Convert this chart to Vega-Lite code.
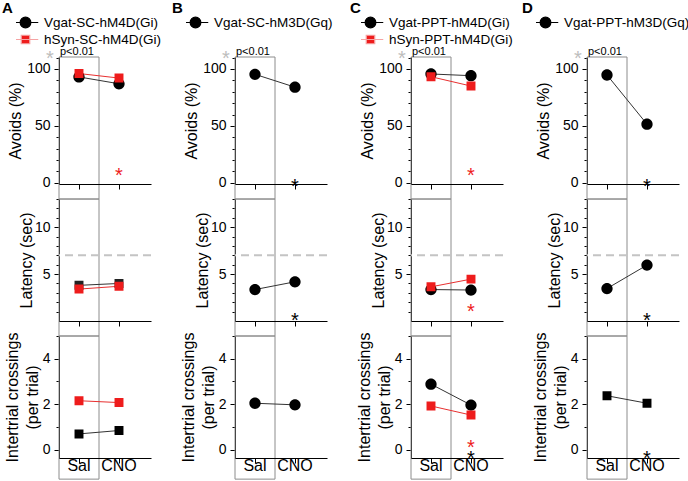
{
  "$schema": "https://vega.github.io/schema/vega-lite/v6.json",
  "padding": {"left": 2, "top": 1, "right": 0, "bottom": 0},
  "datasets": {
    "pts": [
      {"panel": "A", "measure": "avoid", "group": "Vgat-SC-hM4D(Gi)", "cond": "Sal", "value": 93},
      {"panel": "A", "measure": "avoid", "group": "Vgat-SC-hM4D(Gi)", "cond": "CNO", "value": 87},
      {"panel": "A", "measure": "avoid", "group": "hSyn-SC-hM4D(Gi)", "cond": "Sal", "value": 96},
      {"panel": "A", "measure": "avoid", "group": "hSyn-SC-hM4D(Gi)", "cond": "CNO", "value": 92},
      {"panel": "A", "measure": "latency", "group": "Vgat-SC-hM4D(Gi)", "cond": "Sal", "value": 3.8},
      {"panel": "A", "measure": "latency", "group": "Vgat-SC-hM4D(Gi)", "cond": "CNO", "value": 4.0},
      {"panel": "A", "measure": "latency", "group": "hSyn-SC-hM4D(Gi)", "cond": "Sal", "value": 3.4},
      {"panel": "A", "measure": "latency", "group": "hSyn-SC-hM4D(Gi)", "cond": "CNO", "value": 3.7},
      {"panel": "A", "measure": "crossings", "group": "Vgat-SC-hM4D(Gi)", "cond": "Sal", "value": 0.69},
      {"panel": "A", "measure": "crossings", "group": "Vgat-SC-hM4D(Gi)", "cond": "CNO", "value": 0.84},
      {"panel": "A", "measure": "crossings", "group": "hSyn-SC-hM4D(Gi)", "cond": "Sal", "value": 2.15},
      {"panel": "A", "measure": "crossings", "group": "hSyn-SC-hM4D(Gi)", "cond": "CNO", "value": 2.07},
      {"panel": "B", "measure": "avoid", "group": "Vgat-SC-hM3D(Gq)", "cond": "Sal", "value": 95.3},
      {"panel": "B", "measure": "avoid", "group": "Vgat-SC-hM3D(Gq)", "cond": "CNO", "value": 84},
      {"panel": "B", "measure": "latency", "group": "Vgat-SC-hM3D(Gq)", "cond": "Sal", "value": 3.35},
      {"panel": "B", "measure": "latency", "group": "Vgat-SC-hM3D(Gq)", "cond": "CNO", "value": 4.18},
      {"panel": "B", "measure": "crossings", "group": "Vgat-SC-hM3D(Gq)", "cond": "Sal", "value": 2.04},
      {"panel": "B", "measure": "crossings", "group": "Vgat-SC-hM3D(Gq)", "cond": "CNO", "value": 1.97},
      {"panel": "C", "measure": "avoid", "group": "Vgat-PPT-hM4D(Gi)", "cond": "Sal", "value": 95.6},
      {"panel": "C", "measure": "avoid", "group": "Vgat-PPT-hM4D(Gi)", "cond": "CNO", "value": 94.1},
      {"panel": "C", "measure": "avoid", "group": "hSyn-PPT-hM4D(Gi)", "cond": "Sal", "value": 93.2},
      {"panel": "C", "measure": "avoid", "group": "hSyn-PPT-hM4D(Gi)", "cond": "CNO", "value": 85},
      {"panel": "C", "measure": "latency", "group": "Vgat-PPT-hM4D(Gi)", "cond": "Sal", "value": 3.35},
      {"panel": "C", "measure": "latency", "group": "Vgat-PPT-hM4D(Gi)", "cond": "CNO", "value": 3.3},
      {"panel": "C", "measure": "latency", "group": "hSyn-PPT-hM4D(Gi)", "cond": "Sal", "value": 3.64},
      {"panel": "C", "measure": "latency", "group": "hSyn-PPT-hM4D(Gi)", "cond": "CNO", "value": 4.46},
      {"panel": "C", "measure": "crossings", "group": "Vgat-PPT-hM4D(Gi)", "cond": "Sal", "value": 2.88},
      {"panel": "C", "measure": "crossings", "group": "Vgat-PPT-hM4D(Gi)", "cond": "CNO", "value": 1.96},
      {"panel": "C", "measure": "crossings", "group": "hSyn-PPT-hM4D(Gi)", "cond": "Sal", "value": 1.92},
      {"panel": "C", "measure": "crossings", "group": "hSyn-PPT-hM4D(Gi)", "cond": "CNO", "value": 1.52},
      {"panel": "D", "measure": "avoid", "group": "Vgat-PPT-hM3D(Gq)", "cond": "Sal", "value": 94.7},
      {"panel": "D", "measure": "avoid", "group": "Vgat-PPT-hM3D(Gq)", "cond": "CNO", "value": 51.5},
      {"panel": "D", "measure": "latency", "group": "Vgat-PPT-hM3D(Gq)", "cond": "Sal", "value": 3.46},
      {"panel": "D", "measure": "latency", "group": "Vgat-PPT-hM3D(Gq)", "cond": "CNO", "value": 5.96},
      {"panel": "D", "measure": "crossings", "group": "Vgat-PPT-hM3D(Gq)", "cond": "Sal", "value": 2.37},
      {"panel": "D", "measure": "crossings", "group": "Vgat-PPT-hM3D(Gq)", "cond": "CNO", "value": 2.04}
    ],
    "stars": [
      {"panel": "A", "measure": "avoid", "line": "hSyn", "value": 10},
      {"panel": "B", "measure": "avoid", "line": "Vgat", "value": 1},
      {"panel": "C", "measure": "avoid", "line": "hSyn", "value": 10},
      {"panel": "D", "measure": "avoid", "line": "Vgat", "value": 1},
      {"panel": "B", "measure": "latency", "line": "Vgat", "value": 0.5},
      {"panel": "C", "measure": "latency", "line": "hSyn", "value": 1.5},
      {"panel": "D", "measure": "latency", "line": "Vgat", "value": 0.5},
      {"panel": "C", "measure": "crossings", "line": "hSyn", "value": 0.3},
      {"panel": "C", "measure": "crossings", "line": "Vgat", "value": -0.19},
      {"panel": "D", "measure": "crossings", "line": "Vgat", "value": -0.19}
    ]
  },
  "columns": 4,
  "spacing": {"row": 15, "column": 84},
  "bounds": "flush",
  "resolve": {
    "scale": {"fill": "independent", "stroke": "independent", "shape": "independent", "color": "independent", "x": "independent", "y": "independent"},
    "legend": {"fill": "independent", "stroke": "independent", "shape": "independent"}
  },
  "concat": [
    {
      "width": 92, "height": 127,
      "title": {"text": "A", "anchor": "start", "frame": "group", "fontSize": 15, "fontWeight": "bold", "dx": -57, "offset": -1, "color": "#000", "font": "Liberation Sans"},
      "resolve": {"axis": {"y": "independent"}},
      "layer": [
        {"data": {"values": [{}]}, "mark": {"type": "rect", "fillOpacity": 0, "stroke": "#8c8c8c", "strokeWidth": 1},
         "encoding": {"x": {"datum": "Sal", "type": "nominal", "scale": {"type": "band", "domain": ["Sal", "CNO"], "paddingInner": 0, "paddingOuter": 0.15, "align": 0}},
                      "y": {"datum": -14.2, "type": "quantitative", "scale": {"domain": [-1, 110.5], "nice": false, "zero": false}, "axis": null},
                      "y2": {"datum": 110.5}}},
        {"data": {"values": [{}]}, "mark": {"type": "text", "text": "p<0.01", "align": "left", "baseline": "alphabetic", "fontSize": 11, "dx": 1, "dy": -2, "color": "#000"},
         "encoding": {"x": {"datum": "Sal", "type": "nominal", "bandPosition": 0, "scale": {"type": "band", "domain": ["Sal", "CNO"], "paddingInner": 0, "paddingOuter": 0.15, "align": 0}},
                      "y": {"datum": 110.5, "type": "quantitative", "scale": {"domain": [-1, 110.5], "nice": false, "zero": false}, "axis": null}}},
        {"data": {"values": [{}]}, "mark": {"type": "text", "text": "*", "align": "center", "baseline": "alphabetic", "fontSize": 20, "dx": -9, "dy": 8, "color": "#bdbdbd"},
         "encoding": {"x": {"datum": "Sal", "type": "nominal", "bandPosition": 0, "scale": {"type": "band", "domain": ["Sal", "CNO"], "paddingInner": 0, "paddingOuter": 0.15, "align": 0}},
                      "y": {"datum": 110.5, "type": "quantitative", "scale": {"domain": [-1, 110.5], "nice": false, "zero": false}, "axis": null}}},
        {"data": {"name": "pts"}, "transform": [{"filter": "datum.panel==='A' && datum.measure==='avoid'"}],
         "mark": {"type": "line", "strokeWidth": 1},
         "encoding": {"x": {"field": "cond", "type": "nominal", "scale": {"type": "band", "domain": ["Sal", "CNO"], "paddingInner": 0, "paddingOuter": 0.15, "align": 0}},
                      "y": {"field": "value", "type": "quantitative", "scale": {"domain": [-1, 110.5], "nice": false, "zero": false}, "axis": {"title": null, "orient": "left", "values": [10, 20, 30, 40, 60, 70, 80, 90, 110], "labels": false, "domain": false, "tickSize": 3}},
                      "detail": {"field": "group"},
                      "stroke": {"condition": {"test": "indexof(datum.group,'hSyn')===0", "value": "#e83030"}, "value": "#333333"}}},
        {"data": {"name": "pts"}, "transform": [{"filter": "datum.panel==='A' && datum.measure==='avoid'"}],
         "mark": {"type": "point", "filled": true, "size": 320, "strokeWidth": 0, "opacity": 1},
         "encoding": {"x": {"field": "cond", "type": "nominal", "scale": {"type": "band", "domain": ["Sal", "CNO"], "paddingInner": 0, "paddingOuter": 0.15, "align": 0}, "axis": {"title": null, "labels": false}},
                      "y": {"field": "value", "type": "quantitative", "scale": {"domain": [-1, 110.5], "nice": false, "zero": false}, "axis": {"title": "Avoids (%)", "orient": "left", "values": [0, 50, 100], "titlePadding": 3}},
                      "fill": {"field": "group", "type": "nominal", "scale": {"range": ["#000000", "#ee1c1c"]}, "legend": {"title": null, "orient": "none", "legendX": -43, "legendY": -42, "symbolSize": 289, "symbolStrokeWidth": 1.2, "labelFontSize": 13.5, "labelOffset": 9, "rowPadding": 2, "clipHeight": 15, "padding": 0, "labelLimit": 300}},
                      "stroke": {"field": "group", "type": "nominal", "scale": {"range": ["#000000", "#f5a3a3"]}, "legend": {"title": null, "orient": "none", "legendX": -43, "legendY": -42, "symbolSize": 289, "symbolStrokeWidth": 1.2, "labelFontSize": 13.5, "labelOffset": 9, "rowPadding": 2, "clipHeight": 15, "padding": 0, "labelLimit": 300}},
                      "shape": {"field": "group", "type": "nominal", "scale": {"range": ["M-1.5,0H1.5M0.63,0A0.63,0.63,0,1,1,-0.63,0A0.63,0.63,0,1,1,0.63,0Z", "M-1.5,0H1.5M-0.5,-0.5H0.5V0.5H-0.5Z"]}, "legend": {"title": null, "orient": "none", "legendX": -43, "legendY": -42, "symbolSize": 289, "symbolStrokeWidth": 1.2, "labelFontSize": 13.5, "labelOffset": 9, "rowPadding": 2, "clipHeight": 15, "padding": 0, "labelLimit": 300}}}},
        {"data": {"name": "stars"}, "transform": [{"filter": "datum.panel==='A' && datum.measure==='avoid'"}],
         "mark": {"type": "text", "text": "*", "fontSize": 20, "baseline": "alphabetic", "dy": 11},
         "encoding": {"x": {"datum": "CNO", "type": "nominal", "scale": {"type": "band", "domain": ["Sal", "CNO"], "paddingInner": 0, "paddingOuter": 0.15, "align": 0}},
                      "y": {"field": "value", "type": "quantitative", "scale": {"domain": [-1, 110.5], "nice": false, "zero": false}, "axis": null},
                      "color": {"condition": {"test": "datum.line==='hSyn'", "value": "#ee1c1c"}, "value": "#000000"}}}
      ]
    },
    {
      "width": 92, "height": 127,
      "title": {"text": "B", "anchor": "start", "frame": "group", "fontSize": 15, "fontWeight": "bold", "dx": -63, "offset": -1, "color": "#000", "font": "Liberation Sans"},
      "resolve": {"axis": {"y": "independent"}},
      "layer": [
        {"data": {"values": [{}]}, "mark": {"type": "rect", "fillOpacity": 0, "stroke": "#8c8c8c", "strokeWidth": 1},
         "encoding": {"x": {"datum": "Sal", "type": "nominal", "scale": {"type": "band", "domain": ["Sal", "CNO"], "paddingInner": 0, "paddingOuter": 0.15, "align": 0}},
                      "y": {"datum": -14.2, "type": "quantitative", "scale": {"domain": [-1, 110.5], "nice": false, "zero": false}, "axis": null},
                      "y2": {"datum": 110.5}}},
        {"data": {"values": [{}]}, "mark": {"type": "text", "text": "p<0.01", "align": "left", "baseline": "alphabetic", "fontSize": 11, "dx": 1, "dy": -2, "color": "#000"},
         "encoding": {"x": {"datum": "Sal", "type": "nominal", "bandPosition": 0, "scale": {"type": "band", "domain": ["Sal", "CNO"], "paddingInner": 0, "paddingOuter": 0.15, "align": 0}},
                      "y": {"datum": 110.5, "type": "quantitative", "scale": {"domain": [-1, 110.5], "nice": false, "zero": false}, "axis": null}}},
        {"data": {"values": [{}]}, "mark": {"type": "text", "text": "*", "align": "center", "baseline": "alphabetic", "fontSize": 20, "dx": -9, "dy": 8, "color": "#bdbdbd"},
         "encoding": {"x": {"datum": "Sal", "type": "nominal", "bandPosition": 0, "scale": {"type": "band", "domain": ["Sal", "CNO"], "paddingInner": 0, "paddingOuter": 0.15, "align": 0}},
                      "y": {"datum": 110.5, "type": "quantitative", "scale": {"domain": [-1, 110.5], "nice": false, "zero": false}, "axis": null}}},
        {"data": {"name": "pts"}, "transform": [{"filter": "datum.panel==='B' && datum.measure==='avoid'"}],
         "mark": {"type": "line", "strokeWidth": 1},
         "encoding": {"x": {"field": "cond", "type": "nominal", "scale": {"type": "band", "domain": ["Sal", "CNO"], "paddingInner": 0, "paddingOuter": 0.15, "align": 0}},
                      "y": {"field": "value", "type": "quantitative", "scale": {"domain": [-1, 110.5], "nice": false, "zero": false}, "axis": {"title": null, "orient": "left", "values": [10, 20, 30, 40, 60, 70, 80, 90, 110], "labels": false, "domain": false, "tickSize": 3}},
                      "detail": {"field": "group"},
                      "stroke": {"value": "#333333"}}},
        {"data": {"name": "pts"}, "transform": [{"filter": "datum.panel==='B' && datum.measure==='avoid'"}],
         "mark": {"type": "point", "filled": true, "size": 320, "strokeWidth": 0, "opacity": 1},
         "encoding": {"x": {"field": "cond", "type": "nominal", "scale": {"type": "band", "domain": ["Sal", "CNO"], "paddingInner": 0, "paddingOuter": 0.15, "align": 0}, "axis": {"title": null, "labels": false}},
                      "y": {"field": "value", "type": "quantitative", "scale": {"domain": [-1, 110.5], "nice": false, "zero": false}, "axis": {"title": "Avoids (%)", "orient": "left", "values": [0, 50, 100], "titlePadding": 3}},
                      "fill": {"field": "group", "type": "nominal", "scale": {"range": ["#000000", "#ee1c1c"]}, "legend": {"title": null, "orient": "none", "legendX": -49, "legendY": -42, "symbolSize": 289, "symbolStrokeWidth": 1.2, "labelFontSize": 13.5, "labelOffset": 9, "rowPadding": 2, "clipHeight": 15, "padding": 0, "labelLimit": 300}},
                      "stroke": {"field": "group", "type": "nominal", "scale": {"range": ["#000000", "#f5a3a3"]}, "legend": {"title": null, "orient": "none", "legendX": -49, "legendY": -42, "symbolSize": 289, "symbolStrokeWidth": 1.2, "labelFontSize": 13.5, "labelOffset": 9, "rowPadding": 2, "clipHeight": 15, "padding": 0, "labelLimit": 300}},
                      "shape": {"field": "group", "type": "nominal", "scale": {"range": ["M-1.5,0H1.5M0.63,0A0.63,0.63,0,1,1,-0.63,0A0.63,0.63,0,1,1,0.63,0Z", "M-1.5,0H1.5M-0.5,-0.5H0.5V0.5H-0.5Z"]}, "legend": {"title": null, "orient": "none", "legendX": -49, "legendY": -42, "symbolSize": 289, "symbolStrokeWidth": 1.2, "labelFontSize": 13.5, "labelOffset": 9, "rowPadding": 2, "clipHeight": 15, "padding": 0, "labelLimit": 300}}}},
        {"data": {"name": "stars"}, "transform": [{"filter": "datum.panel==='B' && datum.measure==='avoid'"}],
         "mark": {"type": "text", "text": "*", "fontSize": 20, "baseline": "alphabetic", "dy": 11},
         "encoding": {"x": {"datum": "CNO", "type": "nominal", "scale": {"type": "band", "domain": ["Sal", "CNO"], "paddingInner": 0, "paddingOuter": 0.15, "align": 0}},
                      "y": {"field": "value", "type": "quantitative", "scale": {"domain": [-1, 110.5], "nice": false, "zero": false}, "axis": null},
                      "color": {"condition": {"test": "datum.line==='hSyn'", "value": "#ee1c1c"}, "value": "#000000"}}}
      ]
    },
    {
      "width": 92, "height": 127,
      "title": {"text": "C", "anchor": "start", "frame": "group", "fontSize": 15, "fontWeight": "bold", "dx": -61, "offset": -1, "color": "#000", "font": "Liberation Sans"},
      "resolve": {"axis": {"y": "independent"}},
      "layer": [
        {"data": {"values": [{}]}, "mark": {"type": "rect", "fillOpacity": 0, "stroke": "#8c8c8c", "strokeWidth": 1},
         "encoding": {"x": {"datum": "Sal", "type": "nominal", "scale": {"type": "band", "domain": ["Sal", "CNO"], "paddingInner": 0, "paddingOuter": 0.15, "align": 0}},
                      "y": {"datum": -14.2, "type": "quantitative", "scale": {"domain": [-1, 110.5], "nice": false, "zero": false}, "axis": null},
                      "y2": {"datum": 110.5}}},
        {"data": {"values": [{}]}, "mark": {"type": "text", "text": "p<0.01", "align": "left", "baseline": "alphabetic", "fontSize": 11, "dx": 1, "dy": -2, "color": "#000"},
         "encoding": {"x": {"datum": "Sal", "type": "nominal", "bandPosition": 0, "scale": {"type": "band", "domain": ["Sal", "CNO"], "paddingInner": 0, "paddingOuter": 0.15, "align": 0}},
                      "y": {"datum": 110.5, "type": "quantitative", "scale": {"domain": [-1, 110.5], "nice": false, "zero": false}, "axis": null}}},
        {"data": {"values": [{}]}, "mark": {"type": "text", "text": "*", "align": "center", "baseline": "alphabetic", "fontSize": 20, "dx": -9, "dy": 8, "color": "#bdbdbd"},
         "encoding": {"x": {"datum": "Sal", "type": "nominal", "bandPosition": 0, "scale": {"type": "band", "domain": ["Sal", "CNO"], "paddingInner": 0, "paddingOuter": 0.15, "align": 0}},
                      "y": {"datum": 110.5, "type": "quantitative", "scale": {"domain": [-1, 110.5], "nice": false, "zero": false}, "axis": null}}},
        {"data": {"name": "pts"}, "transform": [{"filter": "datum.panel==='C' && datum.measure==='avoid'"}],
         "mark": {"type": "line", "strokeWidth": 1},
         "encoding": {"x": {"field": "cond", "type": "nominal", "scale": {"type": "band", "domain": ["Sal", "CNO"], "paddingInner": 0, "paddingOuter": 0.15, "align": 0}},
                      "y": {"field": "value", "type": "quantitative", "scale": {"domain": [-1, 110.5], "nice": false, "zero": false}, "axis": {"title": null, "orient": "left", "values": [10, 20, 30, 40, 60, 70, 80, 90, 110], "labels": false, "domain": false, "tickSize": 3}},
                      "detail": {"field": "group"},
                      "stroke": {"condition": {"test": "indexof(datum.group,'hSyn')===0", "value": "#e83030"}, "value": "#333333"}}},
        {"data": {"name": "pts"}, "transform": [{"filter": "datum.panel==='C' && datum.measure==='avoid'"}],
         "mark": {"type": "point", "filled": true, "size": 320, "strokeWidth": 0, "opacity": 1},
         "encoding": {"x": {"field": "cond", "type": "nominal", "scale": {"type": "band", "domain": ["Sal", "CNO"], "paddingInner": 0, "paddingOuter": 0.15, "align": 0}, "axis": {"title": null, "labels": false}},
                      "y": {"field": "value", "type": "quantitative", "scale": {"domain": [-1, 110.5], "nice": false, "zero": false}, "axis": {"title": "Avoids (%)", "orient": "left", "values": [0, 50, 100], "titlePadding": 3}},
                      "fill": {"field": "group", "type": "nominal", "scale": {"range": ["#000000", "#ee1c1c"]}, "legend": {"title": null, "orient": "none", "legendX": -50, "legendY": -42, "symbolSize": 289, "symbolStrokeWidth": 1.2, "labelFontSize": 13.5, "labelOffset": 9, "rowPadding": 2, "clipHeight": 15, "padding": 0, "labelLimit": 300}},
                      "stroke": {"field": "group", "type": "nominal", "scale": {"range": ["#000000", "#f5a3a3"]}, "legend": {"title": null, "orient": "none", "legendX": -50, "legendY": -42, "symbolSize": 289, "symbolStrokeWidth": 1.2, "labelFontSize": 13.5, "labelOffset": 9, "rowPadding": 2, "clipHeight": 15, "padding": 0, "labelLimit": 300}},
                      "shape": {"field": "group", "type": "nominal", "scale": {"range": ["M-1.5,0H1.5M0.63,0A0.63,0.63,0,1,1,-0.63,0A0.63,0.63,0,1,1,0.63,0Z", "M-1.5,0H1.5M-0.5,-0.5H0.5V0.5H-0.5Z"]}, "legend": {"title": null, "orient": "none", "legendX": -50, "legendY": -42, "symbolSize": 289, "symbolStrokeWidth": 1.2, "labelFontSize": 13.5, "labelOffset": 9, "rowPadding": 2, "clipHeight": 15, "padding": 0, "labelLimit": 300}}}},
        {"data": {"name": "stars"}, "transform": [{"filter": "datum.panel==='C' && datum.measure==='avoid'"}],
         "mark": {"type": "text", "text": "*", "fontSize": 20, "baseline": "alphabetic", "dy": 11},
         "encoding": {"x": {"datum": "CNO", "type": "nominal", "scale": {"type": "band", "domain": ["Sal", "CNO"], "paddingInner": 0, "paddingOuter": 0.15, "align": 0}},
                      "y": {"field": "value", "type": "quantitative", "scale": {"domain": [-1, 110.5], "nice": false, "zero": false}, "axis": null},
                      "color": {"condition": {"test": "datum.line==='hSyn'", "value": "#ee1c1c"}, "value": "#000000"}}}
      ]
    },
    {
      "width": 92, "height": 127,
      "title": {"text": "D", "anchor": "start", "frame": "group", "fontSize": 15, "fontWeight": "bold", "dx": -65, "offset": -1, "color": "#000", "font": "Liberation Sans"},
      "resolve": {"axis": {"y": "independent"}},
      "layer": [
        {"data": {"values": [{}]}, "mark": {"type": "rect", "fillOpacity": 0, "stroke": "#8c8c8c", "strokeWidth": 1},
         "encoding": {"x": {"datum": "Sal", "type": "nominal", "scale": {"type": "band", "domain": ["Sal", "CNO"], "paddingInner": 0, "paddingOuter": 0.15, "align": 0}},
                      "y": {"datum": -14.2, "type": "quantitative", "scale": {"domain": [-1, 110.5], "nice": false, "zero": false}, "axis": null},
                      "y2": {"datum": 110.5}}},
        {"data": {"values": [{}]}, "mark": {"type": "text", "text": "p<0.01", "align": "left", "baseline": "alphabetic", "fontSize": 11, "dx": 1, "dy": -2, "color": "#000"},
         "encoding": {"x": {"datum": "Sal", "type": "nominal", "bandPosition": 0, "scale": {"type": "band", "domain": ["Sal", "CNO"], "paddingInner": 0, "paddingOuter": 0.15, "align": 0}},
                      "y": {"datum": 110.5, "type": "quantitative", "scale": {"domain": [-1, 110.5], "nice": false, "zero": false}, "axis": null}}},
        {"data": {"values": [{}]}, "mark": {"type": "text", "text": "*", "align": "center", "baseline": "alphabetic", "fontSize": 20, "dx": -9, "dy": 8, "color": "#bdbdbd"},
         "encoding": {"x": {"datum": "Sal", "type": "nominal", "bandPosition": 0, "scale": {"type": "band", "domain": ["Sal", "CNO"], "paddingInner": 0, "paddingOuter": 0.15, "align": 0}},
                      "y": {"datum": 110.5, "type": "quantitative", "scale": {"domain": [-1, 110.5], "nice": false, "zero": false}, "axis": null}}},
        {"data": {"name": "pts"}, "transform": [{"filter": "datum.panel==='D' && datum.measure==='avoid'"}],
         "mark": {"type": "line", "strokeWidth": 1},
         "encoding": {"x": {"field": "cond", "type": "nominal", "scale": {"type": "band", "domain": ["Sal", "CNO"], "paddingInner": 0, "paddingOuter": 0.15, "align": 0}},
                      "y": {"field": "value", "type": "quantitative", "scale": {"domain": [-1, 110.5], "nice": false, "zero": false}, "axis": {"title": null, "orient": "left", "values": [10, 20, 30, 40, 60, 70, 80, 90, 110], "labels": false, "domain": false, "tickSize": 3}},
                      "detail": {"field": "group"},
                      "stroke": {"value": "#333333"}}},
        {"data": {"name": "pts"}, "transform": [{"filter": "datum.panel==='D' && datum.measure==='avoid'"}],
         "mark": {"type": "point", "filled": true, "size": 320, "strokeWidth": 0, "opacity": 1},
         "encoding": {"x": {"field": "cond", "type": "nominal", "scale": {"type": "band", "domain": ["Sal", "CNO"], "paddingInner": 0, "paddingOuter": 0.15, "align": 0}, "axis": {"title": null, "labels": false}},
                      "y": {"field": "value", "type": "quantitative", "scale": {"domain": [-1, 110.5], "nice": false, "zero": false}, "axis": {"title": "Avoids (%)", "orient": "left", "values": [0, 50, 100], "titlePadding": 3}},
                      "fill": {"field": "group", "type": "nominal", "scale": {"range": ["#000000", "#ee1c1c"]}, "legend": {"title": null, "orient": "none", "legendX": -51, "legendY": -42, "symbolSize": 289, "symbolStrokeWidth": 1.2, "labelFontSize": 13.5, "labelOffset": 9, "rowPadding": 2, "clipHeight": 15, "padding": 0, "labelLimit": 300}},
                      "stroke": {"field": "group", "type": "nominal", "scale": {"range": ["#000000", "#f5a3a3"]}, "legend": {"title": null, "orient": "none", "legendX": -51, "legendY": -42, "symbolSize": 289, "symbolStrokeWidth": 1.2, "labelFontSize": 13.5, "labelOffset": 9, "rowPadding": 2, "clipHeight": 15, "padding": 0, "labelLimit": 300}},
                      "shape": {"field": "group", "type": "nominal", "scale": {"range": ["M-1.5,0H1.5M0.63,0A0.63,0.63,0,1,1,-0.63,0A0.63,0.63,0,1,1,0.63,0Z", "M-1.5,0H1.5M-0.5,-0.5H0.5V0.5H-0.5Z"]}, "legend": {"title": null, "orient": "none", "legendX": -51, "legendY": -42, "symbolSize": 289, "symbolStrokeWidth": 1.2, "labelFontSize": 13.5, "labelOffset": 9, "rowPadding": 2, "clipHeight": 15, "padding": 0, "labelLimit": 300}}}},
        {"data": {"name": "stars"}, "transform": [{"filter": "datum.panel==='D' && datum.measure==='avoid'"}],
         "mark": {"type": "text", "text": "*", "fontSize": 20, "baseline": "alphabetic", "dy": 11},
         "encoding": {"x": {"datum": "CNO", "type": "nominal", "scale": {"type": "band", "domain": ["Sal", "CNO"], "paddingInner": 0, "paddingOuter": 0.15, "align": 0}},
                      "y": {"field": "value", "type": "quantitative", "scale": {"domain": [-1, 110.5], "nice": false, "zero": false}, "axis": null},
                      "color": {"condition": {"test": "datum.line==='hSyn'", "value": "#ee1c1c"}, "value": "#000000"}}}
      ]
    },
    {
      "width": 92, "height": 122,
      "resolve": {"axis": {"y": "independent"}},
      "layer": [
        {"data": {"values": [{}]}, "mark": {"type": "rect", "fillOpacity": 0, "stroke": "#8c8c8c", "strokeWidth": 1},
         "encoding": {"x": {"datum": "Sal", "type": "nominal", "scale": {"type": "band", "domain": ["Sal", "CNO"], "paddingInner": 0, "paddingOuter": 0.15, "align": 0}},
                      "y": {"datum": -1.6, "type": "quantitative", "scale": {"domain": [0, 13], "nice": false, "zero": false}, "axis": null},
                      "y2": {"datum": 13}}},
        {"data": {"values": [{}]}, "mark": {"type": "rule", "stroke": "#c4c4c4", "strokeWidth": 2, "strokeDash": [8, 5]},
         "encoding": {"y": {"datum": 7, "type": "quantitative", "scale": {"domain": [0, 13], "nice": false, "zero": false}, "axis": null}}},
        {"data": {"name": "pts"}, "transform": [{"filter": "datum.panel==='A' && datum.measure==='latency'"}],
         "mark": {"type": "line", "strokeWidth": 1},
         "encoding": {"x": {"field": "cond", "type": "nominal", "scale": {"type": "band", "domain": ["Sal", "CNO"], "paddingInner": 0, "paddingOuter": 0.15, "align": 0}},
                      "y": {"field": "value", "type": "quantitative", "scale": {"domain": [0, 13], "nice": false, "zero": false}, "axis": {"title": null, "orient": "left", "values": [1, 2, 3, 4, 6, 7, 8, 9, 11, 12, 13], "labels": false, "domain": false, "tickSize": 3}},
                      "detail": {"field": "group"},
                      "stroke": {"condition": {"test": "indexof(datum.group,'hSyn')===0", "value": "#e83030"}, "value": "#333333"}}},
        {"data": {"name": "pts"}, "transform": [{"filter": "datum.panel==='A' && datum.measure==='latency'"}],
         "mark": {"type": "point", "filled": true, "size": 320, "strokeWidth": 0, "opacity": 1},
         "encoding": {"x": {"field": "cond", "type": "nominal", "scale": {"type": "band", "domain": ["Sal", "CNO"], "paddingInner": 0, "paddingOuter": 0.15, "align": 0}, "axis": {"title": null, "labels": false}},
                      "y": {"field": "value", "type": "quantitative", "scale": {"domain": [0, 13], "nice": false, "zero": false}, "axis": {"title": "Latency (sec)", "orient": "left", "values": [5, 10], "titlePadding": 0}},
                      "fill": {"condition": {"test": "indexof(datum.group,'hSyn')===0", "value": "#ee1c1c"}, "value": "#222222"},
                      "shape": {"value": "M-1.5,0H1.5M-0.5,-0.5H0.5V0.5H-0.5Z"}}}
      ]
    },
    {
      "width": 92, "height": 122,
      "resolve": {"axis": {"y": "independent"}},
      "layer": [
        {"data": {"values": [{}]}, "mark": {"type": "rect", "fillOpacity": 0, "stroke": "#8c8c8c", "strokeWidth": 1},
         "encoding": {"x": {"datum": "Sal", "type": "nominal", "scale": {"type": "band", "domain": ["Sal", "CNO"], "paddingInner": 0, "paddingOuter": 0.15, "align": 0}},
                      "y": {"datum": -1.6, "type": "quantitative", "scale": {"domain": [0, 13], "nice": false, "zero": false}, "axis": null},
                      "y2": {"datum": 13}}},
        {"data": {"values": [{}]}, "mark": {"type": "rule", "stroke": "#c4c4c4", "strokeWidth": 2, "strokeDash": [8, 5]},
         "encoding": {"y": {"datum": 7, "type": "quantitative", "scale": {"domain": [0, 13], "nice": false, "zero": false}, "axis": null}}},
        {"data": {"name": "pts"}, "transform": [{"filter": "datum.panel==='B' && datum.measure==='latency'"}],
         "mark": {"type": "line", "strokeWidth": 1},
         "encoding": {"x": {"field": "cond", "type": "nominal", "scale": {"type": "band", "domain": ["Sal", "CNO"], "paddingInner": 0, "paddingOuter": 0.15, "align": 0}},
                      "y": {"field": "value", "type": "quantitative", "scale": {"domain": [0, 13], "nice": false, "zero": false}, "axis": {"title": null, "orient": "left", "values": [1, 2, 3, 4, 6, 7, 8, 9, 11, 12, 13], "labels": false, "domain": false, "tickSize": 3}},
                      "detail": {"field": "group"},
                      "stroke": {"value": "#333333"}}},
        {"data": {"name": "pts"}, "transform": [{"filter": "datum.panel==='B' && datum.measure==='latency'"}],
         "mark": {"type": "point", "filled": true, "size": 320, "strokeWidth": 0, "opacity": 1},
         "encoding": {"x": {"field": "cond", "type": "nominal", "scale": {"type": "band", "domain": ["Sal", "CNO"], "paddingInner": 0, "paddingOuter": 0.15, "align": 0}, "axis": {"title": null, "labels": false}},
                      "y": {"field": "value", "type": "quantitative", "scale": {"domain": [0, 13], "nice": false, "zero": false}, "axis": {"title": "Latency (sec)", "orient": "left", "values": [5, 10], "titlePadding": 0}},
                      "fill": {"value": "#000000"},
                      "shape": {"value": "M-1.5,0H1.5M0.63,0A0.63,0.63,0,1,1,-0.63,0A0.63,0.63,0,1,1,0.63,0Z"}}},
        {"data": {"name": "stars"}, "transform": [{"filter": "datum.panel==='B' && datum.measure==='latency'"}],
         "mark": {"type": "text", "text": "*", "fontSize": 20, "baseline": "alphabetic", "dy": 11},
         "encoding": {"x": {"datum": "CNO", "type": "nominal", "scale": {"type": "band", "domain": ["Sal", "CNO"], "paddingInner": 0, "paddingOuter": 0.15, "align": 0}},
                      "y": {"field": "value", "type": "quantitative", "scale": {"domain": [0, 13], "nice": false, "zero": false}, "axis": null},
                      "color": {"condition": {"test": "datum.line==='hSyn'", "value": "#ee1c1c"}, "value": "#000000"}}}
      ]
    },
    {
      "width": 92, "height": 122,
      "resolve": {"axis": {"y": "independent"}},
      "layer": [
        {"data": {"values": [{}]}, "mark": {"type": "rect", "fillOpacity": 0, "stroke": "#8c8c8c", "strokeWidth": 1},
         "encoding": {"x": {"datum": "Sal", "type": "nominal", "scale": {"type": "band", "domain": ["Sal", "CNO"], "paddingInner": 0, "paddingOuter": 0.15, "align": 0}},
                      "y": {"datum": -1.6, "type": "quantitative", "scale": {"domain": [0, 13], "nice": false, "zero": false}, "axis": null},
                      "y2": {"datum": 13}}},
        {"data": {"values": [{}]}, "mark": {"type": "rule", "stroke": "#c4c4c4", "strokeWidth": 2, "strokeDash": [8, 5]},
         "encoding": {"y": {"datum": 7, "type": "quantitative", "scale": {"domain": [0, 13], "nice": false, "zero": false}, "axis": null}}},
        {"data": {"name": "pts"}, "transform": [{"filter": "datum.panel==='C' && datum.measure==='latency'"}],
         "mark": {"type": "line", "strokeWidth": 1},
         "encoding": {"x": {"field": "cond", "type": "nominal", "scale": {"type": "band", "domain": ["Sal", "CNO"], "paddingInner": 0, "paddingOuter": 0.15, "align": 0}},
                      "y": {"field": "value", "type": "quantitative", "scale": {"domain": [0, 13], "nice": false, "zero": false}, "axis": {"title": null, "orient": "left", "values": [1, 2, 3, 4, 6, 7, 8, 9, 11, 12, 13], "labels": false, "domain": false, "tickSize": 3}},
                      "detail": {"field": "group"},
                      "stroke": {"condition": {"test": "indexof(datum.group,'hSyn')===0", "value": "#e83030"}, "value": "#333333"}}},
        {"data": {"name": "pts"}, "transform": [{"filter": "datum.panel==='C' && datum.measure==='latency'"}],
         "mark": {"type": "point", "filled": true, "size": 320, "strokeWidth": 0, "opacity": 1},
         "encoding": {"x": {"field": "cond", "type": "nominal", "scale": {"type": "band", "domain": ["Sal", "CNO"], "paddingInner": 0, "paddingOuter": 0.15, "align": 0}, "axis": {"title": null, "labels": false}},
                      "y": {"field": "value", "type": "quantitative", "scale": {"domain": [0, 13], "nice": false, "zero": false}, "axis": {"title": "Latency (sec)", "orient": "left", "values": [5, 10], "titlePadding": 0}},
                      "fill": {"condition": {"test": "indexof(datum.group,'hSyn')===0", "value": "#ee1c1c"}, "value": "#000000"},
                      "shape": {"condition": {"test": "indexof(datum.group,'hSyn')===0", "value": "M-1.5,0H1.5M-0.5,-0.5H0.5V0.5H-0.5Z"}, "value": "M-1.5,0H1.5M0.63,0A0.63,0.63,0,1,1,-0.63,0A0.63,0.63,0,1,1,0.63,0Z"}}},
        {"data": {"name": "stars"}, "transform": [{"filter": "datum.panel==='C' && datum.measure==='latency'"}],
         "mark": {"type": "text", "text": "*", "fontSize": 20, "baseline": "alphabetic", "dy": 11},
         "encoding": {"x": {"datum": "CNO", "type": "nominal", "scale": {"type": "band", "domain": ["Sal", "CNO"], "paddingInner": 0, "paddingOuter": 0.15, "align": 0}},
                      "y": {"field": "value", "type": "quantitative", "scale": {"domain": [0, 13], "nice": false, "zero": false}, "axis": null},
                      "color": {"condition": {"test": "datum.line==='hSyn'", "value": "#ee1c1c"}, "value": "#000000"}}}
      ]
    },
    {
      "width": 92, "height": 122,
      "resolve": {"axis": {"y": "independent"}},
      "layer": [
        {"data": {"values": [{}]}, "mark": {"type": "rect", "fillOpacity": 0, "stroke": "#8c8c8c", "strokeWidth": 1},
         "encoding": {"x": {"datum": "Sal", "type": "nominal", "scale": {"type": "band", "domain": ["Sal", "CNO"], "paddingInner": 0, "paddingOuter": 0.15, "align": 0}},
                      "y": {"datum": -1.6, "type": "quantitative", "scale": {"domain": [0, 13], "nice": false, "zero": false}, "axis": null},
                      "y2": {"datum": 13}}},
        {"data": {"values": [{}]}, "mark": {"type": "rule", "stroke": "#c4c4c4", "strokeWidth": 2, "strokeDash": [8, 5]},
         "encoding": {"y": {"datum": 7, "type": "quantitative", "scale": {"domain": [0, 13], "nice": false, "zero": false}, "axis": null}}},
        {"data": {"name": "pts"}, "transform": [{"filter": "datum.panel==='D' && datum.measure==='latency'"}],
         "mark": {"type": "line", "strokeWidth": 1},
         "encoding": {"x": {"field": "cond", "type": "nominal", "scale": {"type": "band", "domain": ["Sal", "CNO"], "paddingInner": 0, "paddingOuter": 0.15, "align": 0}},
                      "y": {"field": "value", "type": "quantitative", "scale": {"domain": [0, 13], "nice": false, "zero": false}, "axis": {"title": null, "orient": "left", "values": [1, 2, 3, 4, 6, 7, 8, 9, 11, 12, 13], "labels": false, "domain": false, "tickSize": 3}},
                      "detail": {"field": "group"},
                      "stroke": {"value": "#333333"}}},
        {"data": {"name": "pts"}, "transform": [{"filter": "datum.panel==='D' && datum.measure==='latency'"}],
         "mark": {"type": "point", "filled": true, "size": 320, "strokeWidth": 0, "opacity": 1},
         "encoding": {"x": {"field": "cond", "type": "nominal", "scale": {"type": "band", "domain": ["Sal", "CNO"], "paddingInner": 0, "paddingOuter": 0.15, "align": 0}, "axis": {"title": null, "labels": false}},
                      "y": {"field": "value", "type": "quantitative", "scale": {"domain": [0, 13], "nice": false, "zero": false}, "axis": {"title": "Latency (sec)", "orient": "left", "values": [5, 10], "titlePadding": 0}},
                      "fill": {"value": "#000000"},
                      "shape": {"value": "M-1.5,0H1.5M0.63,0A0.63,0.63,0,1,1,-0.63,0A0.63,0.63,0,1,1,0.63,0Z"}}},
        {"data": {"name": "stars"}, "transform": [{"filter": "datum.panel==='D' && datum.measure==='latency'"}],
         "mark": {"type": "text", "text": "*", "fontSize": 20, "baseline": "alphabetic", "dy": 11},
         "encoding": {"x": {"datum": "CNO", "type": "nominal", "scale": {"type": "band", "domain": ["Sal", "CNO"], "paddingInner": 0, "paddingOuter": 0.15, "align": 0}},
                      "y": {"field": "value", "type": "quantitative", "scale": {"domain": [0, 13], "nice": false, "zero": false}, "axis": null},
                      "color": {"condition": {"test": "datum.line==='hSyn'", "value": "#ee1c1c"}, "value": "#000000"}}}
      ]
    },
    {
      "width": 92, "height": 122,
      "resolve": {"axis": {"y": "independent"}},
      "layer": [
        {"data": {"values": [{}]}, "mark": {"type": "rect", "fillOpacity": 0, "stroke": "#8c8c8c", "strokeWidth": 1},
         "encoding": {"x": {"datum": "Sal", "type": "nominal", "scale": {"type": "band", "domain": ["Sal", "CNO"], "paddingInner": 0, "paddingOuter": 0.15, "align": 0}},
                      "y": {"datum": -1.3, "type": "quantitative", "scale": {"domain": [-0.37, 5], "nice": false, "zero": false}, "axis": null},
                      "y2": {"datum": 5}}},
        {"data": {"name": "pts"}, "transform": [{"filter": "datum.panel==='A' && datum.measure==='crossings'"}],
         "mark": {"type": "line", "strokeWidth": 1},
         "encoding": {"x": {"field": "cond", "type": "nominal", "scale": {"type": "band", "domain": ["Sal", "CNO"], "paddingInner": 0, "paddingOuter": 0.15, "align": 0}},
                      "y": {"field": "value", "type": "quantitative", "scale": {"domain": [-0.37, 5], "nice": false, "zero": false}, "axis": {"title": null, "orient": "left", "values": [1, 3, 5], "labels": false, "domain": false, "tickSize": 3}},
                      "detail": {"field": "group"},
                      "stroke": {"condition": {"test": "indexof(datum.group,'hSyn')===0", "value": "#e83030"}, "value": "#333333"}}},
        {"data": {"name": "pts"}, "transform": [{"filter": "datum.panel==='A' && datum.measure==='crossings'"}],
         "mark": {"type": "point", "filled": true, "size": 320, "strokeWidth": 0, "opacity": 1},
         "encoding": {"x": {"field": "cond", "type": "nominal", "scale": {"type": "band", "domain": ["Sal", "CNO"], "paddingInner": 0, "paddingOuter": 0.15, "align": 0}, "axis": {"title": null, "labelAngle": 0, "labelAlign": "center"}},
                      "y": {"field": "value", "type": "quantitative", "scale": {"domain": [-0.37, 5], "nice": false, "zero": false}, "axis": {"title": ["Intertrial crossings", "(per trial)"], "orient": "left", "titleLineHeight": 20, "values": [0, 2, 4], "titlePadding": 2}},
                      "fill": {"condition": {"test": "indexof(datum.group,'hSyn')===0", "value": "#ee1c1c"}, "value": "#000000"},
                      "shape": {"value": "M-1.5,0H1.5M-0.5,-0.5H0.5V0.5H-0.5Z"}}}
      ]
    },
    {
      "width": 92, "height": 122,
      "resolve": {"axis": {"y": "independent"}},
      "layer": [
        {"data": {"values": [{}]}, "mark": {"type": "rect", "fillOpacity": 0, "stroke": "#8c8c8c", "strokeWidth": 1},
         "encoding": {"x": {"datum": "Sal", "type": "nominal", "scale": {"type": "band", "domain": ["Sal", "CNO"], "paddingInner": 0, "paddingOuter": 0.15, "align": 0}},
                      "y": {"datum": -1.3, "type": "quantitative", "scale": {"domain": [-0.37, 5], "nice": false, "zero": false}, "axis": null},
                      "y2": {"datum": 5}}},
        {"data": {"name": "pts"}, "transform": [{"filter": "datum.panel==='B' && datum.measure==='crossings'"}],
         "mark": {"type": "line", "strokeWidth": 1},
         "encoding": {"x": {"field": "cond", "type": "nominal", "scale": {"type": "band", "domain": ["Sal", "CNO"], "paddingInner": 0, "paddingOuter": 0.15, "align": 0}},
                      "y": {"field": "value", "type": "quantitative", "scale": {"domain": [-0.37, 5], "nice": false, "zero": false}, "axis": {"title": null, "orient": "left", "values": [1, 3, 5], "labels": false, "domain": false, "tickSize": 3}},
                      "detail": {"field": "group"},
                      "stroke": {"value": "#333333"}}},
        {"data": {"name": "pts"}, "transform": [{"filter": "datum.panel==='B' && datum.measure==='crossings'"}],
         "mark": {"type": "point", "filled": true, "size": 320, "strokeWidth": 0, "opacity": 1},
         "encoding": {"x": {"field": "cond", "type": "nominal", "scale": {"type": "band", "domain": ["Sal", "CNO"], "paddingInner": 0, "paddingOuter": 0.15, "align": 0}, "axis": {"title": null, "labelAngle": 0, "labelAlign": "center"}},
                      "y": {"field": "value", "type": "quantitative", "scale": {"domain": [-0.37, 5], "nice": false, "zero": false}, "axis": {"title": ["Intertrial crossings", "(per trial)"], "orient": "left", "titleLineHeight": 20, "values": [0, 2, 4], "titlePadding": 2}},
                      "fill": {"value": "#000000"},
                      "shape": {"value": "M-1.5,0H1.5M0.63,0A0.63,0.63,0,1,1,-0.63,0A0.63,0.63,0,1,1,0.63,0Z"}}}
      ]
    },
    {
      "width": 92, "height": 122,
      "resolve": {"axis": {"y": "independent"}},
      "layer": [
        {"data": {"values": [{}]}, "mark": {"type": "rect", "fillOpacity": 0, "stroke": "#8c8c8c", "strokeWidth": 1},
         "encoding": {"x": {"datum": "Sal", "type": "nominal", "scale": {"type": "band", "domain": ["Sal", "CNO"], "paddingInner": 0, "paddingOuter": 0.15, "align": 0}},
                      "y": {"datum": -1.3, "type": "quantitative", "scale": {"domain": [-0.37, 5], "nice": false, "zero": false}, "axis": null},
                      "y2": {"datum": 5}}},
        {"data": {"name": "pts"}, "transform": [{"filter": "datum.panel==='C' && datum.measure==='crossings'"}],
         "mark": {"type": "line", "strokeWidth": 1},
         "encoding": {"x": {"field": "cond", "type": "nominal", "scale": {"type": "band", "domain": ["Sal", "CNO"], "paddingInner": 0, "paddingOuter": 0.15, "align": 0}},
                      "y": {"field": "value", "type": "quantitative", "scale": {"domain": [-0.37, 5], "nice": false, "zero": false}, "axis": {"title": null, "orient": "left", "values": [1, 3, 5], "labels": false, "domain": false, "tickSize": 3}},
                      "detail": {"field": "group"},
                      "stroke": {"condition": {"test": "indexof(datum.group,'hSyn')===0", "value": "#e83030"}, "value": "#333333"}}},
        {"data": {"name": "pts"}, "transform": [{"filter": "datum.panel==='C' && datum.measure==='crossings'"}],
         "mark": {"type": "point", "filled": true, "size": 320, "strokeWidth": 0, "opacity": 1},
         "encoding": {"x": {"field": "cond", "type": "nominal", "scale": {"type": "band", "domain": ["Sal", "CNO"], "paddingInner": 0, "paddingOuter": 0.15, "align": 0}, "axis": {"title": null, "labelAngle": 0, "labelAlign": "center"}},
                      "y": {"field": "value", "type": "quantitative", "scale": {"domain": [-0.37, 5], "nice": false, "zero": false}, "axis": {"title": ["Intertrial crossings", "(per trial)"], "orient": "left", "titleLineHeight": 20, "values": [0, 2, 4], "titlePadding": 2}},
                      "fill": {"condition": {"test": "indexof(datum.group,'hSyn')===0", "value": "#ee1c1c"}, "value": "#000000"},
                      "shape": {"condition": {"test": "indexof(datum.group,'hSyn')===0", "value": "M-1.5,0H1.5M-0.5,-0.5H0.5V0.5H-0.5Z"}, "value": "M-1.5,0H1.5M0.63,0A0.63,0.63,0,1,1,-0.63,0A0.63,0.63,0,1,1,0.63,0Z"}}},
        {"data": {"name": "stars"}, "transform": [{"filter": "datum.panel==='C' && datum.measure==='crossings'"}],
         "mark": {"type": "text", "text": "*", "fontSize": 20, "baseline": "alphabetic", "dy": 11},
         "encoding": {"x": {"datum": "CNO", "type": "nominal", "scale": {"type": "band", "domain": ["Sal", "CNO"], "paddingInner": 0, "paddingOuter": 0.15, "align": 0}},
                      "y": {"field": "value", "type": "quantitative", "scale": {"domain": [-0.37, 5], "nice": false, "zero": false}, "axis": null},
                      "color": {"condition": {"test": "datum.line==='hSyn'", "value": "#ee1c1c"}, "value": "#000000"}}}
      ]
    },
    {
      "width": 92, "height": 122,
      "resolve": {"axis": {"y": "independent"}},
      "layer": [
        {"data": {"values": [{}]}, "mark": {"type": "rect", "fillOpacity": 0, "stroke": "#8c8c8c", "strokeWidth": 1},
         "encoding": {"x": {"datum": "Sal", "type": "nominal", "scale": {"type": "band", "domain": ["Sal", "CNO"], "paddingInner": 0, "paddingOuter": 0.15, "align": 0}},
                      "y": {"datum": -1.3, "type": "quantitative", "scale": {"domain": [-0.37, 5], "nice": false, "zero": false}, "axis": null},
                      "y2": {"datum": 5}}},
        {"data": {"name": "pts"}, "transform": [{"filter": "datum.panel==='D' && datum.measure==='crossings'"}],
         "mark": {"type": "line", "strokeWidth": 1},
         "encoding": {"x": {"field": "cond", "type": "nominal", "scale": {"type": "band", "domain": ["Sal", "CNO"], "paddingInner": 0, "paddingOuter": 0.15, "align": 0}},
                      "y": {"field": "value", "type": "quantitative", "scale": {"domain": [-0.37, 5], "nice": false, "zero": false}, "axis": {"title": null, "orient": "left", "values": [1, 3, 5], "labels": false, "domain": false, "tickSize": 3}},
                      "detail": {"field": "group"},
                      "stroke": {"value": "#333333"}}},
        {"data": {"name": "pts"}, "transform": [{"filter": "datum.panel==='D' && datum.measure==='crossings'"}],
         "mark": {"type": "point", "filled": true, "size": 320, "strokeWidth": 0, "opacity": 1},
         "encoding": {"x": {"field": "cond", "type": "nominal", "scale": {"type": "band", "domain": ["Sal", "CNO"], "paddingInner": 0, "paddingOuter": 0.15, "align": 0}, "axis": {"title": null, "labelAngle": 0, "labelAlign": "center"}},
                      "y": {"field": "value", "type": "quantitative", "scale": {"domain": [-0.37, 5], "nice": false, "zero": false}, "axis": {"title": ["Intertrial crossings", "(per trial)"], "orient": "left", "titleLineHeight": 20, "values": [0, 2, 4], "titlePadding": 2}},
                      "fill": {"value": "#000000"},
                      "shape": {"value": "M-1.5,0H1.5M-0.5,-0.5H0.5V0.5H-0.5Z"}}},
        {"data": {"name": "stars"}, "transform": [{"filter": "datum.panel==='D' && datum.measure==='crossings'"}],
         "mark": {"type": "text", "text": "*", "fontSize": 20, "baseline": "alphabetic", "dy": 11},
         "encoding": {"x": {"datum": "CNO", "type": "nominal", "scale": {"type": "band", "domain": ["Sal", "CNO"], "paddingInner": 0, "paddingOuter": 0.15, "align": 0}},
                      "y": {"field": "value", "type": "quantitative", "scale": {"domain": [-0.37, 5], "nice": false, "zero": false}, "axis": null},
                      "color": {"condition": {"test": "datum.line==='hSyn'", "value": "#ee1c1c"}, "value": "#000000"}}}
      ]
    }
  ],
  "config": {
    "view": {"stroke": null},
    "font": "Liberation Sans",
    "axis": {"grid": false, "domainColor": "#000000", "tickColor": "#000000", "labelColor": "#000000", "titleColor": "#000000", "labelFontSize": 14, "titleFontSize": 16, "titleFontWeight": "normal", "labelPadding": 4, "tickSize": 5, "labelFont": "Liberation Sans", "titleFont": "Liberation Sans", "domainWidth": 1, "tickWidth": 1},
    "axisX": {"labelFontSize": 16, "labelPadding": 2},
    "legend": {"labelColor": "#000000", "labelFont": "Liberation Sans"}
  }
}
